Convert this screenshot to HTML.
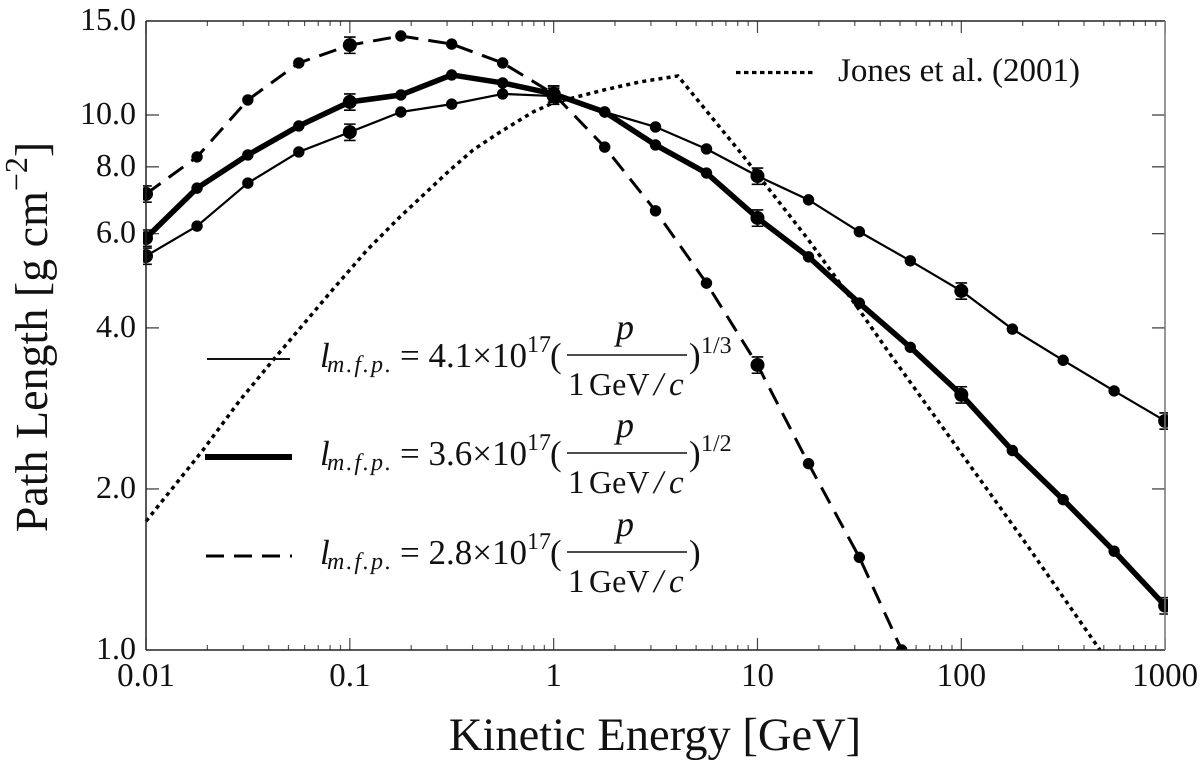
<!DOCTYPE html>
<html lang="en">
<head>
<meta charset="utf-8">
<title>Path Length vs Kinetic Energy</title>
<style>
html,body{margin:0;padding:0;background:#fff;width:1200px;height:763px;overflow:hidden}
svg{display:block}
text{font-family:"Liberation Serif",serif;fill:#111;text-rendering:geometricPrecision}
.i{font-style:italic}
.sub{font-style:italic;letter-spacing:2px}
</style>
</head>
<body>
<svg id="chart" xmlns="http://www.w3.org/2000/svg" width="1200" height="763" viewBox="0 0 1200 763">
<defs><clipPath id="plot-clip"><rect x="143" y="18" width="1025" height="632.5"/></clipPath></defs>
<rect width="1200" height="763" fill="#fff"/>
<g id="ticks"></g>
<g id="series" clip-path="url(#plot-clip)"></g>
<g id="frame">
<line x1="146" y1="21" x2="1165" y2="21" stroke="#222" stroke-width="1.5"/>
<line x1="146" y1="650" x2="1165" y2="650" stroke="#222" stroke-width="1.5"/>
<line x1="146" y1="21" x2="146" y2="650" stroke="#222" stroke-width="1.5"/>
<line x1="1165" y1="21" x2="1165" y2="650" stroke="#777" stroke-width="1.5"/>
</g>
<g id="tick-labels"></g>
<text x="655" y="750" font-size="46.5" text-anchor="middle">Kinetic Energy [GeV]</text>
<text transform="translate(47,337) rotate(-90)" font-size="46" text-anchor="middle">Path Length [g cm<tspan font-size="32" dy="-20">−2</tspan><tspan dy="20">]</tspan></text>

<g>
<line x1="736" y1="72.5" x2="816" y2="72.5" stroke="#000" stroke-width="3.2" stroke-dasharray="4.5 3.5"/>
<text x="838" y="81" font-size="33">Jones et al. (2001)</text>
</g>

<g>
<line x1="207" y1="359" x2="290" y2="359" stroke="#111" stroke-width="2"/>
<text x="320" y="367" font-size="35" class="i">l</text>
<text x="327" y="372" font-size="24" class="sub">m.f.p.</text>
<text x="400" y="367" font-size="35">= 4.1×10</text>
<text x="527" y="352" font-size="24">17</text>
<text x="550" y="367" font-size="35">(</text>
<line x1="567" y1="355" x2="687" y2="355" stroke="#111" stroke-width="1.6"/>
<text x="625" y="339" font-size="36" class="i" text-anchor="middle">p</text>
<text x="568" y="395" font-size="33">1</text><text x="589" y="395" font-size="32">GeV</text><text x="654" y="395" font-size="33" class="i">/</text><text x="669" y="395" font-size="33" class="i">c</text>
<text x="689" y="367" font-size="35">)</text>
<text x="701" y="353" font-size="24">1/3</text>
</g>

<g>
<line x1="205" y1="457" x2="292" y2="457" stroke="#000" stroke-width="6"/>
<text x="320" y="465" font-size="35" class="i">l</text>
<text x="327" y="470" font-size="24" class="sub">m.f.p.</text>
<text x="400" y="465" font-size="35">= 3.6×10</text>
<text x="527" y="450" font-size="24">17</text>
<text x="550" y="465" font-size="35">(</text>
<line x1="567" y1="453" x2="687" y2="453" stroke="#111" stroke-width="1.6"/>
<text x="625" y="437" font-size="36" class="i" text-anchor="middle">p</text>
<text x="568" y="493" font-size="33">1</text><text x="589" y="493" font-size="32">GeV</text><text x="654" y="493" font-size="33" class="i">/</text><text x="669" y="493" font-size="33" class="i">c</text>
<text x="689" y="465" font-size="35">)</text>
<text x="701" y="451" font-size="24">1/2</text>
</g>

<g>
<line x1="206" y1="556" x2="292" y2="556" stroke="#000" stroke-width="3" stroke-dasharray="18 10"/>
<text x="320" y="564" font-size="35" class="i">l</text>
<text x="327" y="569" font-size="24" class="sub">m.f.p.</text>
<text x="400" y="564" font-size="35">= 2.8×10</text>
<text x="527" y="549" font-size="24">17</text>
<text x="550" y="564" font-size="35">(</text>
<line x1="567" y1="552" x2="687" y2="552" stroke="#111" stroke-width="1.6"/>
<text x="625" y="536" font-size="36" class="i" text-anchor="middle">p</text>
<text x="568" y="592" font-size="33">1</text><text x="589" y="592" font-size="32">GeV</text><text x="654" y="592" font-size="33" class="i">/</text><text x="669" y="592" font-size="33" class="i">c</text>
<text x="689" y="564" font-size="35">)</text>
</g>
</svg>
<script>
const energies = [0.01,0.0178,0.0316,0.0562,0.1,0.178,0.316,0.562,1,1.78,3.16,5.62,10,17.8,31.6,56.2,100,178,316,562,1000];
const thinValues = [5.45,6.20,7.46,8.53,9.29,10.13,10.48,10.95,10.85,10.13,9.50,8.64,7.69,6.94,6.05,5.34,4.69,3.98,3.48,3.05,2.68];
const thickValues = [5.89,7.30,8.42,9.54,10.58,10.90,11.88,11.48,10.95,10.13,8.79,7.79,6.42,5.43,4.45,3.68,3.00,2.36,1.91,1.53,1.21];
const dashedEnergies = [0.01,0.0178,0.0316,0.0562,0.1,0.178,0.316,0.562,1,1.78,3.16,5.62,10,17.8,31.6,51];
const dashedValues = [7.12,8.35,10.67,12.51,13.51,14.05,13.57,12.51,10.95,8.71,6.62,4.85,3.41,2.23,1.49,1.00];
const jonesEnergies = [0.01,0.01904,0.0289,0.0425,0.0845,0.1214,0.1762,0.310,0.402,0.5454,0.7917,0.993,1.766,2.652,4.07,8.21,17.5,30.8,43.2,200.7,479];
const jonesValues = [1.74,2.365,2.93,3.50,4.77,5.59,6.45,7.89,8.60,9.29,10.13,10.53,11.14,11.53,11.83,8.53,5.89,4.38,3.64,1.61,1.00];
const errorEnergies = [0.01,0.1,1,10,100,1000];
const errorFraction = [0.035];
const xTickValues = [0.01,0.1,1,10,100,1000];
const xTickLabels = ["0.01","0.1","1","10","100","1000"];
const yTickValues = [1,2,4,6,8,10,15];
const yTickLabels = ["1.0","2.0","4.0","6.0","8.0","10.0","15.0"];

const NS = 'http://www.w3.org/2000/svg';
const X = e => 146 + (Math.log10(e) + 2) * 203.83;
const Y = v => 650 - 535 * Math.log10(v);
function mk(tag, parent, attrs) {
  const el = document.createElementNS(NS, tag);
  for (const k in attrs) el.setAttribute(k, attrs[k]);
  parent.appendChild(el);
  return el;
}
const tickG = document.getElementById('ticks');
const labelG = document.getElementById('tick-labels');
const seriesG = document.getElementById('series');

function tickLine(x1, y1, x2, y2, color, w) {
  const t = mk('line', tickG, {x1, y1, x2, y2, stroke: color, 'stroke-width': w});
  
  
}
xTickValues.forEach((v, i) => {
  const px = X(v);
  tickLine(px, 650, px, 638, '#444', 1.2);
  tickLine(px, 21, px, 33, '#444', 1.2);
  const t = mk('text', labelG, {x: px, y: 686, 'font-size': 33, 'text-anchor': 'middle'});
  t.textContent = xTickLabels[i];
  
  
  if (i < xTickValues.length - 1) {
    for (let m = 2; m < 10; m++) {
      const mx = X(v * m);
      tickLine(mx, 650, mx, 645, '#555', 1.2);
      tickLine(mx, 21, mx, 26, '#555', 1.2);
    }
  }
});
yTickValues.forEach((v, i) => {
  const py = Y(v);
  if (i > 0 && i < yTickValues.length - 1) {
    tickLine(146, py, 159, py, '#333', 1.2);
    tickLine(1165, py, 1152, py, '#333', 1.2);
  }
  const t = mk('text', labelG, {x: 136, y: py + 9, 'font-size': 32, 'text-anchor': 'end'});
  t.textContent = yTickLabels[i];
  
  
});

function pathFrom(xs, vs) {
  return vs.map((v, i) => (i ? 'L' : 'M') + X(xs[i]).toFixed(2) + ' ' + Y(v).toFixed(2)).join(' ');
}
const jones = mk('path', seriesG, {d: pathFrom(jonesEnergies, jonesValues), fill: 'none', stroke: '#000', 'stroke-width': 3.5, 'stroke-dasharray': '4 4.2'});



function drawSeries(xs, vals, width, dash, name) {
  const p = mk('path', seriesG, {d: pathFrom(xs, vals), fill: 'none', stroke: '#000', 'stroke-width': width, 'stroke-linejoin': 'round'});
  if (dash) p.setAttribute('stroke-dasharray', dash);
  
  
  vals.forEach((v, i) => {
    const e = xs[i];
    const hasErr = errorEnergies.includes(e);
    const c = mk('circle', seriesG, {cx: X(e), cy: Y(v), r: hasErr ? 7 : 5.7, fill: '#000'});
    
    
    if (hasErr) {
      const px = X(e), hi = Y(v * (1 + errorFraction[0])), lo = Y(v * (1 - errorFraction[0]));
      const b = mk('path', seriesG, {d: `M${px} ${hi} L${px} ${lo} M${px - 5.8} ${hi} L${px + 5.8} ${hi} M${px - 5.8} ${lo} L${px + 5.8} ${lo}`, fill: 'none', stroke: '#000', 'stroke-width': 1.6});
      
      
    }
  });
}
drawSeries(energies, thinValues, 2.2, null, 'one-third');
drawSeries(energies, thickValues, 5.5, null, 'one-half');
drawSeries(dashedEnergies, dashedValues, 3, '18 10', 'linear');
</script>
</body>
</html>
